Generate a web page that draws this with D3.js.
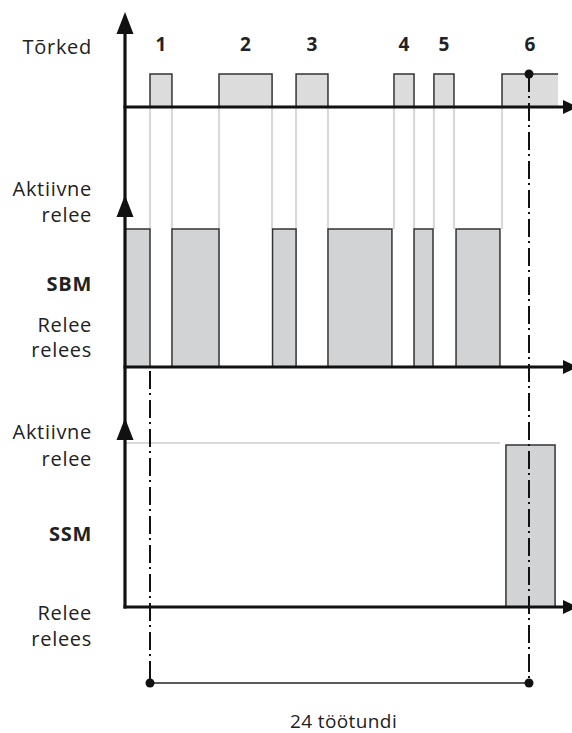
<!DOCTYPE html>
<html>
<head>
<meta charset="utf-8">
<script src="https://cdn.jsdelivr.net/npm/d3@7"></script>
<style>
  body { margin: 0; background: #fff; }
  text { font-family: "Open Sans", sans-serif; fill: #222; }
</style>
</head>
<body>
<script>
// time is in operating hours, 0 = start of the 24 h window
const faultLabels = ['1', '2', '3', '4', '5', '6'];
const faultStart = [0, 4.37, 9.25, 15.45, 17.98, 22.29];
const faultEnd = [1.39, 7.73, 11.27, 16.72, 19.25, 25.84];
const faultOngoing = [false, false, false, false, false, true];

const sbmStart = [-1.58, 1.39, 7.76, 11.27, 16.72, 19.38];
const sbmEnd = [0, 4.37, 9.25, 15.32, 17.92, 22.16];

const ssmIdleEnd = 22.16;
const ssmStart = [22.54];
const ssmEnd = [25.65];

const windowHours = [0, 24];
const windowLabel = '24 töötundi';

const laneTitles = ['Tõrked', 'Aktiivne', 'relee', 'SBM', 'Relee', 'relees',
    'Aktiivne', 'relee', 'SSM', 'Relee', 'relees'];
const laneTitleBold = [false, false, false, true, false, false,
    false, false, true, false, false];

const width = 572;
const height = 733;

let svg = d3.select('body')
    .append('svg')
    .attr('width', width)
    .attr('height', height);

let xScale = d3.scaleLinear()
    .domain(windowHours)
    .range([150, 529]);

const axisX = 125;
const axisEnd = 578;

// one y scale per lane: 0 = released / no fault, 1 = active / fault
let yFault = d3.scaleLinear().domain([0, 1]).range([107, 74]);
let ySbm = d3.scaleLinear().domain([0, 1]).range([367, 229]);
let ySsm = d3.scaleLinear().domain([0, 1]).range([607, 445]);

const faultFill = '#dcdcdd';
const relayFill = '#d2d3d5';
const edgeColor = '#333';
const guideColor = '#d9d9d9';

let faults = faultLabels.map((d, i) => ({
    label: d, start: faultStart[i], end: faultEnd[i], ongoing: faultOngoing[i]
}));
let sbm = sbmStart.map((d, i) => ({ start: d, end: sbmEnd[i] }));
let ssm = ssmStart.map((d, i) => ({ start: d, end: ssmEnd[i] }));

// light guides from each fault edge down to the SBM level
let guideGroup = svg.append('g').classed('guides', true);
faults.forEach(f => {
    let edges = f.ongoing ? [f.start] : [f.start, f.end];
    edges.forEach(t => {
        guideGroup.append('line')
            .attr('x1', xScale(t)).attr('x2', xScale(t))
            .attr('y1', yFault(0)).attr('y2', ySbm(1))
            .attr('stroke', guideColor)
            .attr('stroke-width', 2.2);
    });
});

// SSM idle level
svg.append('line')
    .attr('x1', axisX).attr('x2', xScale(ssmIdleEnd))
    .attr('y1', ySsm(1) - 2).attr('y2', ySsm(1) - 2)
    .attr('stroke', guideColor)
    .attr('stroke-width', 2.2);

// fault pulses
let faultGroup = svg.append('g').classed('faults', true);
faultGroup.selectAll('rect')
    .data(faults)
    .enter()
    .append('rect')
    .attr('x', d => xScale(d.start))
    .attr('y', yFault(1))
    .attr('width', d => xScale(d.end) - xScale(d.start))
    .attr('height', yFault(0) - yFault(1))
    .style('fill', faultFill);
faultGroup.selectAll('path')
    .data(faults)
    .enter()
    .append('path')
    .attr('d', d => {
        let x0 = xScale(d.start), x1 = xScale(d.end);
        let p = `M${x0},${yFault(0)}V${yFault(1)}H${x1}`;
        if (!d.ongoing) p += `V${yFault(0)}`;
        return p;
    })
    .attr('fill', 'none')
    .attr('stroke', edgeColor)
    .attr('stroke-width', 1.5);
faultGroup.selectAll('text')
    .data(faults)
    .enter()
    .append('text')
    .attr('x', d => (xScale(d.start) + xScale(d.end)) / 2)
    .attr('y', 51)
    .attr('text-anchor', 'middle')
    .style('font-weight', 'bold')
    .style('font-size', '19px')
    .text(d => d.label);

// relay pulses
function drawPulses(data, y, cls) {
    svg.append('g').classed(cls, true)
        .selectAll('rect')
        .data(data)
        .enter()
        .append('rect')
        .attr('x', d => xScale(d.start))
        .attr('y', y(1))
        .attr('width', d => xScale(d.end) - xScale(d.start))
        .attr('height', y(0) - y(1))
        .style('fill', relayFill)
        .style('stroke', edgeColor)
        .style('stroke-width', 1.5);
}
drawPulses(sbm, ySbm, 'sbm');
drawPulses(ssm, ySsm, 'ssm');

// dash-dot markers of the 24 h window
let windowGroup = svg.append('g').classed('window', true);
const spanY = 683;
windowGroup.append('line')
    .attr('x1', xScale(windowHours[0])).attr('x2', xScale(windowHours[0]))
    .attr('y1', ySbm(0) + 4).attr('y2', spanY)
    .attr('stroke', '#111').attr('stroke-width', 2)
    .attr('stroke-dasharray', '18,4,2,5');
windowGroup.append('line')
    .attr('x1', xScale(windowHours[1])).attr('x2', xScale(windowHours[1]))
    .attr('y1', yFault(1)).attr('y2', spanY)
    .attr('stroke', '#111').attr('stroke-width', 2)
    .attr('stroke-dasharray', '18,4,2,5');
windowGroup.append('line')
    .attr('x1', xScale(windowHours[0])).attr('x2', xScale(windowHours[1]))
    .attr('y1', spanY).attr('y2', spanY)
    .attr('stroke', '#222').attr('stroke-width', 1.6);
[[windowHours[0], spanY], [windowHours[1], spanY], [windowHours[1], yFault(1)]].forEach(p => {
    windowGroup.append('circle')
        .attr('cx', xScale(p[0])).attr('cy', p[1])
        .attr('r', 4.5)
        .style('fill', '#111');
});
windowGroup.append('text')
    .attr('x', (xScale(windowHours[0]) + xScale(windowHours[1])) / 2 + 4)
    .attr('y', 728)
    .attr('text-anchor', 'middle')
    .style('font-size', '19px')
    .style('letter-spacing', '0.4px')
    .text(windowLabel);

// axes
let axisGroup = svg.append('g').classed('axis', true);
axisGroup.append('line')
    .attr('x1', axisX).attr('x2', axisX)
    .attr('y1', 30).attr('y2', ySsm(0) + 1.5)
    .attr('stroke', '#111').attr('stroke-width', 3.2);
[yFault(0), ySbm(0), ySsm(0)].forEach(y => {
    axisGroup.append('line')
        .attr('x1', axisX - 1.5).attr('x2', axisEnd - 12)
        .attr('y1', y).attr('y2', y)
        .attr('stroke', '#111').attr('stroke-width', 3.2);
    axisGroup.append('path')
        .attr('d', `M${axisEnd},${y}L${axisEnd - 15},${y - 7}L${axisEnd - 15},${y + 7}Z`)
        .style('fill', '#111');
});
[12, 195, 418].forEach(y => {
    axisGroup.append('path')
        .attr('d', `M${axisX},${y}L${axisX + 8.5},${y + 22}L${axisX - 8.5},${y + 22}Z`)
        .style('fill', '#111');
});

// lane titles, baselines top to bottom
const titleY = [54, 196, 222, 291, 332, 357, 439, 466, 541, 620, 646];
svg.append('g').classed('labels', true)
    .attr('text-anchor', 'end')
    .style('font-size', '20px')
    .style('letter-spacing', '0.7px')
    .selectAll('text')
    .data(laneTitles)
    .enter()
    .append('text')
    .attr('x', 92)
    .attr('y', (d, i) => titleY[i])
    .style('font-weight', (d, i) => laneTitleBold[i] ? 'bold' : 'normal')
    .text(d => d);
</script>
</body>
</html>
